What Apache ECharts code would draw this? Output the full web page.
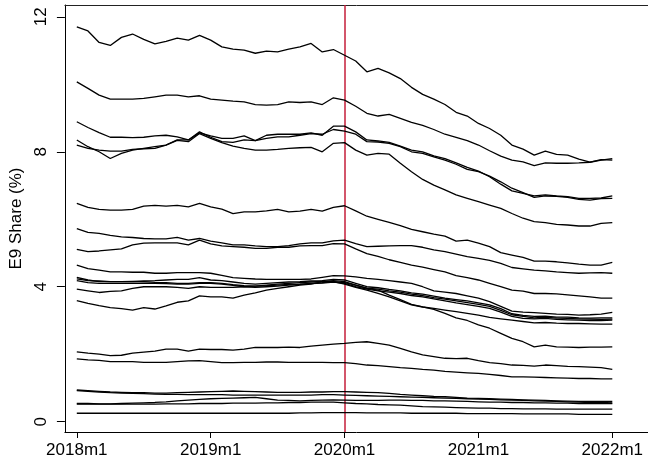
<!DOCTYPE html>
<html>
<head>
<meta charset="utf-8">
<script src="https://cdn.jsdelivr.net/npm/echarts@6/dist/echarts.min.js"></script>
<style>html,body{margin:0;padding:0;background:#fff;}#c{width:648px;height:464px;}</style>
</head>
<body>
<div id="c"></div>
<script>
// Monthly periods 2018m1 .. 2022m1 (index 0..48)
const periods = [];
for (let y = 2018; y <= 2022; y++) { for (let m = 1; m <= 12; m++) { if (y === 2022 && m > 1) break; periods.push(y + 'm' + m); } }
const xTickValues = [0, 12, 24, 36, 48];
const xTickLabels = ['2018m1', '2019m1', '2020m1', '2021m1', '2022m1'];
const yTickValues = [0, 4, 8, 12];
const eventPeriod = 24; // 2020m1
const yTitle = 'E9 Share (%)';

const seriesA = [11.70,11.58,11.24,11.15,11.39,11.49,11.33,11.20,11.27,11.37,11.31,11.45,11.31,11.11,11.04,11.01,10.92,10.98,10.96,11.04,11.11,11.21,10.96,11.03,10.86,10.69,10.37,10.47,10.34,10.17,9.91,9.70,9.56,9.40,9.17,9.06,8.84,8.69,8.49,8.20,8.08,7.90,8.02,7.92,7.90,7.78,7.69,7.75,7.80];
const seriesB = [10.07,9.88,9.68,9.56,9.56,9.56,9.58,9.63,9.68,9.68,9.63,9.66,9.56,9.53,9.50,9.48,9.40,9.38,9.40,9.48,9.46,9.48,9.40,9.60,9.53,9.35,9.14,9.06,9.11,8.99,8.87,8.78,8.66,8.52,8.43,8.33,8.20,8.03,7.87,7.75,7.70,7.59,7.67,7.66,7.66,7.67,7.69,7.77,7.75];
const seriesC = [8.89,8.72,8.57,8.43,8.43,8.42,8.43,8.47,8.49,8.44,8.35,8.56,8.47,8.40,8.40,8.47,8.33,8.49,8.52,8.52,8.52,8.56,8.49,8.76,8.76,8.59,8.35,8.32,8.28,8.17,8.05,8.00,7.88,7.80,7.67,7.54,7.43,7.26,7.04,6.84,6.77,6.69,6.72,6.69,6.67,6.62,6.62,6.63,6.69];
const seriesD = [8.35,8.15,8.00,7.80,7.95,8.05,8.10,8.15,8.20,8.35,8.35,8.59,8.43,8.30,8.28,8.35,8.33,8.40,8.44,8.44,8.49,8.54,8.52,8.66,8.61,8.52,8.30,8.29,8.25,8.15,8.00,7.95,7.85,7.75,7.63,7.48,7.41,7.28,7.11,6.92,6.79,6.65,6.69,6.68,6.65,6.59,6.57,6.61,6.62];
const seriesE = [8.20,8.10,8.05,8.02,8.02,8.07,8.09,8.10,8.20,8.34,8.30,8.54,8.40,8.27,8.17,8.10,8.05,8.05,8.07,8.10,8.12,8.13,8.00,8.25,8.27,8.05,7.90,7.95,7.93,7.66,7.41,7.18,7.01,6.87,6.72,6.62,6.52,6.42,6.32,6.17,6.03,5.93,5.90,5.85,5.83,5.80,5.80,5.88,5.90];
const seriesF = [6.47,6.35,6.29,6.27,6.27,6.29,6.39,6.41,6.39,6.41,6.37,6.47,6.37,6.30,6.17,6.22,6.22,6.25,6.29,6.22,6.24,6.29,6.24,6.35,6.40,6.25,6.09,6.00,5.91,5.81,5.70,5.63,5.56,5.50,5.35,5.38,5.29,5.19,5.01,4.94,4.87,4.76,4.76,4.74,4.71,4.67,4.64,4.64,4.72];
const seriesG = [5.72,5.61,5.58,5.52,5.48,5.46,5.43,5.42,5.42,5.46,5.38,5.43,5.35,5.30,5.24,5.24,5.21,5.19,5.19,5.22,5.27,5.30,5.30,5.36,5.38,5.28,5.19,5.20,5.21,5.22,5.22,5.17,5.09,5.04,4.97,4.89,4.84,4.78,4.69,4.57,4.53,4.49,4.47,4.44,4.42,4.40,4.41,4.42,4.40];
const seriesH = [5.11,5.04,5.06,5.09,5.12,5.24,5.29,5.30,5.30,5.30,5.24,5.38,5.27,5.21,5.19,5.17,5.14,5.14,5.17,5.17,5.21,5.22,5.22,5.28,5.27,5.12,4.98,4.90,4.80,4.72,4.64,4.58,4.51,4.44,4.33,4.27,4.20,4.10,4.00,3.90,3.87,3.80,3.80,3.79,3.76,3.73,3.70,3.66,3.66];
const seriesI = [4.64,4.54,4.49,4.44,4.44,4.43,4.43,4.40,4.40,4.42,4.42,4.42,4.40,4.34,4.27,4.25,4.23,4.22,4.22,4.22,4.22,4.23,4.28,4.33,4.32,4.29,4.25,4.22,4.18,4.14,4.10,4.00,3.88,3.84,3.80,3.73,3.66,3.56,3.42,3.28,3.25,3.23,3.21,3.19,3.18,3.16,3.17,3.19,3.24];
const seriesJ = [4.28,4.20,4.15,4.15,4.15,4.15,4.17,4.18,4.20,4.22,4.22,4.27,4.20,4.18,4.14,4.10,4.08,4.10,4.12,4.14,4.15,4.17,4.18,4.22,4.20,4.10,4.00,3.97,3.92,3.88,3.82,3.78,3.72,3.66,3.62,3.58,3.52,3.46,3.35,3.20,3.15,3.12,3.13,3.10,3.10,3.08,3.07,3.08,3.08];
const seriesK = [4.23,4.18,4.17,4.15,4.15,4.16,4.15,4.13,4.12,4.10,4.10,4.12,4.12,4.10,4.06,4.03,4.02,4.05,4.08,4.10,4.12,4.14,4.16,4.18,4.15,4.05,3.96,3.93,3.88,3.84,3.78,3.74,3.68,3.63,3.58,3.53,3.48,3.42,3.30,3.17,3.12,3.08,3.10,3.07,3.06,3.05,3.04,3.03,3.04];
const seriesL = [4.18,4.12,4.10,4.10,4.10,4.10,4.11,4.10,4.09,4.08,4.08,4.10,4.10,4.08,4.04,4.00,3.98,4.00,4.02,4.05,4.07,4.09,4.11,4.14,4.10,4.00,3.93,3.88,3.84,3.80,3.74,3.70,3.64,3.58,3.52,3.47,3.42,3.36,3.25,3.12,3.06,3.05,3.06,3.03,3.02,3.01,3.00,3.00,3.01];
const seriesM = [3.93,3.88,3.83,3.86,3.88,3.95,4.00,4.00,4.00,3.98,3.95,4.00,3.98,3.98,3.98,4.00,4.02,4.03,4.05,4.07,4.08,4.10,4.12,4.15,4.08,3.98,3.90,3.80,3.70,3.58,3.46,3.40,3.36,3.31,3.26,3.21,3.16,3.09,3.05,3.01,2.97,2.93,2.94,2.92,2.91,2.91,2.90,2.89,2.89];
const seriesN = [3.59,3.51,3.44,3.38,3.35,3.31,3.38,3.34,3.43,3.54,3.58,3.73,3.70,3.70,3.66,3.75,3.82,3.90,3.95,4.00,4.05,4.08,4.15,4.15,4.12,4.05,3.95,3.90,3.75,3.62,3.48,3.40,3.33,3.21,3.08,3.00,2.87,2.77,2.62,2.47,2.37,2.22,2.27,2.22,2.21,2.20,2.21,2.21,2.22];
const seriesO = [2.07,2.03,2.00,1.96,1.97,2.03,2.06,2.09,2.15,2.15,2.09,2.15,2.14,2.14,2.12,2.15,2.20,2.20,2.20,2.21,2.20,2.24,2.27,2.30,2.32,2.35,2.37,2.32,2.27,2.17,2.07,1.98,1.93,1.88,1.87,1.88,1.81,1.75,1.72,1.68,1.67,1.65,1.68,1.66,1.64,1.63,1.62,1.60,1.55];
const seriesP = [1.86,1.83,1.82,1.78,1.78,1.78,1.76,1.76,1.76,1.78,1.80,1.81,1.78,1.75,1.75,1.76,1.76,1.77,1.77,1.76,1.76,1.76,1.76,1.75,1.75,1.72,1.68,1.66,1.63,1.60,1.58,1.55,1.53,1.49,1.47,1.45,1.43,1.40,1.37,1.33,1.33,1.32,1.31,1.30,1.29,1.28,1.28,1.27,1.27];
const seriesQ = [0.94,0.92,0.90,0.88,0.87,0.86,0.86,0.85,0.85,0.86,0.87,0.88,0.89,0.90,0.91,0.90,0.89,0.88,0.87,0.87,0.87,0.88,0.88,0.89,0.89,0.88,0.87,0.86,0.84,0.81,0.79,0.77,0.75,0.74,0.72,0.70,0.69,0.68,0.67,0.66,0.65,0.64,0.63,0.62,0.61,0.60,0.60,0.60,0.60];
const seriesR = [0.92,0.90,0.88,0.86,0.85,0.84,0.83,0.82,0.81,0.81,0.80,0.80,0.80,0.80,0.79,0.79,0.79,0.79,0.79,0.79,0.79,0.79,0.80,0.80,0.79,0.78,0.77,0.76,0.75,0.74,0.73,0.72,0.71,0.70,0.69,0.68,0.67,0.66,0.65,0.64,0.63,0.62,0.61,0.60,0.59,0.58,0.57,0.57,0.56];
const seriesS = [0.54,0.54,0.53,0.53,0.54,0.55,0.56,0.57,0.59,0.62,0.64,0.66,0.68,0.69,0.70,0.71,0.72,0.68,0.64,0.63,0.62,0.63,0.64,0.65,0.64,0.63,0.63,0.63,0.64,0.64,0.63,0.63,0.62,0.62,0.61,0.60,0.59,0.58,0.58,0.57,0.57,0.56,0.56,0.55,0.55,0.54,0.54,0.54,0.54];
const seriesT = [0.52,0.52,0.52,0.52,0.52,0.52,0.52,0.52,0.53,0.53,0.53,0.54,0.54,0.54,0.55,0.55,0.55,0.56,0.56,0.57,0.57,0.58,0.58,0.58,0.56,0.54,0.53,0.51,0.50,0.49,0.47,0.45,0.44,0.43,0.42,0.41,0.40,0.40,0.39,0.39,0.38,0.38,0.38,0.37,0.37,0.37,0.37,0.37,0.37];
const seriesU = [0.25,0.25,0.25,0.25,0.25,0.25,0.25,0.25,0.25,0.25,0.25,0.25,0.25,0.25,0.25,0.25,0.25,0.25,0.25,0.25,0.26,0.26,0.27,0.27,0.27,0.27,0.26,0.26,0.26,0.26,0.25,0.25,0.25,0.25,0.25,0.24,0.24,0.24,0.24,0.24,0.23,0.23,0.23,0.23,0.23,0.22,0.22,0.22,0.22];

const allSeries = [seriesA,seriesB,seriesC,seriesD,seriesE,seriesF,seriesG,seriesH,seriesI,seriesJ,seriesK,seriesL,seriesM,seriesN,seriesO,seriesP,seriesQ,seriesR,seriesS,seriesT,seriesU];

const FONT = 'Liberation Sans, Arial, Helvetica, sans-serif';
const xMin = -1.0667, xMax = 51.2;

const series = allSeries.map((vals, k) => ({
  type: 'line',
  data: vals.map((v, i) => [i, v]),
  symbol: 'none',
  silent: true,
  lineStyle: { color: '#000', width: 1.3 },
  z: 3
}));
series[0].markLine = {
  silent: true,
  symbol: ['none', 'none'],
  label: { show: false },
  lineStyle: { color: '#c41e3a', width: 1.5, type: 'solid' },
  data: [{ xAxis: eventPeriod }],
  z: 2
};

const chart = echarts.init(document.getElementById('c'), null, { renderer: 'canvas' });
chart.setOption({
  animation: false,
  backgroundColor: '#fff',
  grid: { left: 60, top: 5, right: 0, bottom: 32, containLabel: false },
  xAxis: [{
    type: 'value', min: xMin, max: xMax,
    axisLine: { show: true, onZero: false, lineStyle: { color: '#000', width: 1 } },
    axisTick: { show: true, length: 6, customValues: xTickValues, lineStyle: { color: '#000' } },
    axisLabel: { show: true, customValues: xTickValues, margin: 10, color: '#000', fontSize: 17, fontFamily: FONT,
      formatter: v => xTickLabels[xTickValues.indexOf(Math.round(v))] || '' },
    splitLine: { show: false }
  }, {
    type: 'value', min: xMin, max: xMax, position: 'top',
    axisLine: { show: true, onZero: false, lineStyle: { color: '#222', width: 1 } },
    axisTick: { show: false }, axisLabel: { show: false }, splitLine: { show: false }
  }],
  yAxis: {
    type: 'value', min: -0.305, max: 12.35,
    name: yTitle, nameLocation: 'middle', nameGap: 28,
    nameTextStyle: { color: '#000', fontSize: 17, fontFamily: FONT },
    axisLine: { show: true, onZero: false, lineStyle: { color: '#000', width: 1 } },
    axisTick: { show: true, length: 8, customValues: yTickValues, lineStyle: { color: '#000' } },
    axisLabel: { show: true, customValues: yTickValues, rotate: 90, margin: 15, color: '#000', fontSize: 17, fontFamily: FONT },
    splitLine: { show: false }
  },
  series: series
});
</script>
</body>
</html>
